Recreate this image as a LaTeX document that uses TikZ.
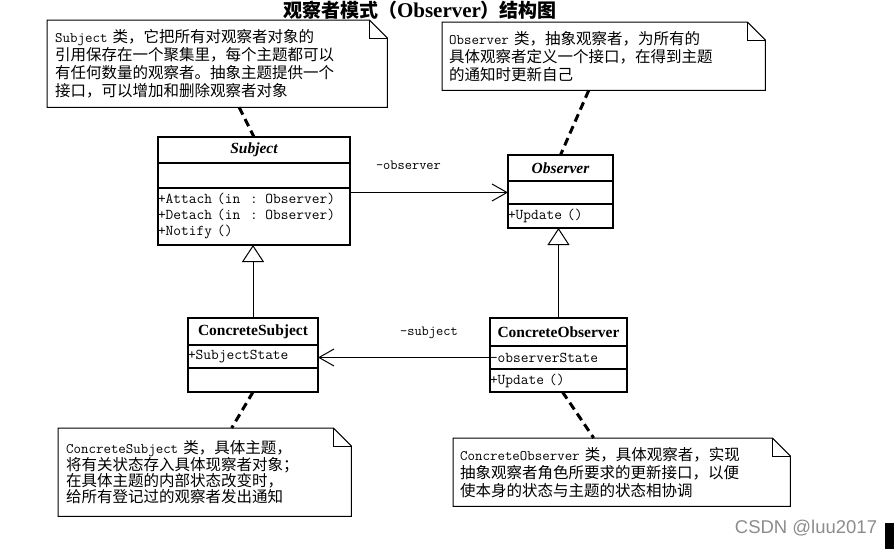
\documentclass[tikz,border=0pt]{standalone}
\usepackage{fontspec}
\usepackage{tikz}
\usetikzlibrary{arrows.meta,positioning,calc}
\newfontfamily\cjk{Noto Sans CJK SC}
\newfontfamily\serif{Liberation Serif}
\newfontfamily\wmark{Liberation Sans}
\newcommand\en[1]{{\fontsize{14.5}{18}\selectfont\ttfamily #1}}
\newcommand\foldnote[1]{%
  \draw[notel] (#1.north west) -- ([xshift=-18pt]#1.north east) -- ([yshift=-18pt]#1.north east)
    -- (#1.south east) -- (#1.south west) -- cycle;
  \draw[notel] ([xshift=-18pt]#1.north east) |- ([yshift=-18pt]#1.north east);}
\tikzset{
  cls/.style    = {rectangle, draw=black, line width=1.1pt, inner xsep=0pt, inner ysep=1pt,
                   outer sep=0pt, anchor=north},
  cname/.style  = {cls, align=center, font=\fontsize{15.5}{16}\selectfont\serif\bfseries},
  cpart/.style  = {cls, align=left, font=\fontsize{15}{16}\selectfont\ttfamily},
  note/.style   = {rectangle, anchor=north west, align=left, inner ysep=0pt, inner xsep=8pt,
                   font=\fontsize{15.5}{18}\selectfont\cjk},
  notel/.style  = {draw=black, line width=1pt, line join=miter},
  fl/.style     = {-{Straight Barb[length=15pt, width=17pt]}, line width=1pt},
  inh/.style    = {-{Triangle[open, length=17pt, width=22pt]}, line width=1pt},
  dashfl/.style = {line width=3pt, dash pattern=on 8pt off 5pt},
  lbl/.style    = {anchor=base, inner sep=0pt, font=\fontsize{14}{16}\selectfont\ttfamily},
}

\begin{document}
\begin{tikzpicture}[x=1pt, y=-1pt, node distance=0pt]
  \clip (0,0) rectangle (894,549);
  \node[anchor=base, inner sep=0pt] (title) at (420,17)
    {{\fontsize{19}{20}\selectfont\cjk\bfseries 观察者模式（}{\fontsize{21}{20}\selectfont\serif\bfseries Observer}{\fontsize{19}{20}\selectfont\cjk\bfseries ）结构图}};

  % classes
  \node[cname, text width=192pt, minimum height=26pt] (subj) at (254,137) {\itshape Subject};
  \node[cpart, text width=192pt, minimum height=25pt, below=of subj] (subj-attr) {};
  \node[cpart, text width=192pt, minimum height=57pt, below=of subj-attr] (subj-ops)
    {+Attach (in\ \ : Observer)\\+Detach (in\ \ : Observer)\\+Notify ()};

  \node[cname, text width=105pt, minimum height=26pt] (obs) at (560.5,155) {\itshape Observer};
  \node[cpart, text width=105pt, minimum height=23pt, below=of obs] (obs-attr) {};
  \node[cpart, text width=105pt, minimum height=24pt, below=of obs-attr] (obs-ops) {+Update ()};

  \node[cname, text width=130pt, minimum height=27pt] (csub) at (253,318) {ConcreteSubject};
  \node[cpart, text width=130pt, minimum height=23pt, below=of csub] (csub-attr) {+SubjectState};
  \node[cpart, text width=130pt, minimum height=24pt, below=of csub-attr] (csub-ops) {};

  \node[cname, text width=137pt, minimum height=28pt] (cobs) at (558.5,318) {ConcreteObserver};
  \node[cpart, text width=137pt, minimum height=23pt, below=of cobs] (cobs-attr) {-observerState};
  \node[cpart, text width=137pt, minimum height=23pt, below=of cobs-attr] (cobs-ops) {+Update ()};

  % relations
  \draw[fl] (obs-attr.west -| subj-ops.east) -- (obs-attr.west)
    node[lbl, pos=.37, yshift=23pt] (l-obs) {-observer};
  \draw[fl] (cobs-attr.west) -- (cobs-attr.west -| csub-attr.east)
    node[lbl, pos=.355, yshift=22pt] (l-sub) {-subject};
  \draw[inh] (csub.north) -- (csub.north |- subj-ops.south);
  \draw[inh] (cobs.north) -- (cobs.north |- obs-ops.south);

  % notes
  \node[note, text width=324pt, minimum height=87pt] (n1) at (47,20)
    {\en{Subject} 类，它把所有对观察者对象的\\引用保存在一个聚集里，每个主题都可以\\有任何数量的观察者。抽象主题提供一个\\接口，可以增加和删除观察者对象};
  \node[note, inner xsep=7pt, text width=309pt, minimum height=68pt] (n2) at (442,22)
    {\en{Observer} 类，抽象观察者，为所有的\\具体观察者定义一个接口，在得到主题\\的通知时更新自己};
  \node[note, text width=277pt, minimum height=88pt, font=\fontsize{15.5}{16}\selectfont\cjk] (n3) at (58,428)
    {\en{ConcreteSubject} 类，具体主题，\\将有关状态存入具体现察者对象；\\在具体主题的内部状态改变时，\\给所有登记过的观察者发出通知};
  \node[note, inner xsep=7pt, text width=323pt, minimum height=68pt] (n4) at (453,438)
    {\en{ConcreteObserver} 类，具体观察者，实现\\抽象观察者角色所要求的更新接口，以便\\使本身的状态与主题的状态相协调};
  \foreach \n in {n1,n2,n3,n4}{ \foldnote{\n} }

  \draw[dashfl] ($(n1.south)+(22,0)$) -- (subj.north);
  \draw[dashfl] ($(n2.south)+(-15,0)$) -- (obs.north);
  \draw[dashfl] (csub-ops.south) -- ($(n3.north)+(27,0)$);
  \draw[dashfl] ($(cobs-ops.south)+(4,0)$) -- ($(n4.north)+(-28,0)$);

  \node[font=\fontsize{18.5}{20}\selectfont\wmark, text=black!45] (wm) at (806,528) {CSDN @luu2017};
  \fill (885,523) rectangle (894,549);
\end{tikzpicture}
\end{document}
